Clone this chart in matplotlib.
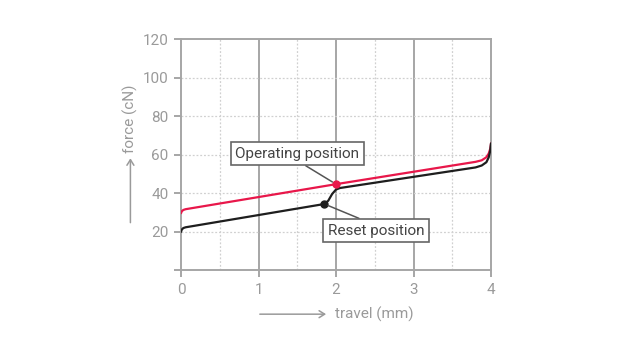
import numpy as np
import matplotlib
matplotlib.use("Agg")
from matplotlib import pyplot as plt

# curves (travel in mm, force in cN)
operating_travel = [0, 0.01, 0.03, 0.06, 2.0, 3.8, 3.88, 3.94, 3.97, 3.99, 4.0]
operating_force = [29.5, 30.5, 31.2, 31.6, 44.6, 56.2, 57.0, 58.6, 60.5, 63.0, 65.8]

reset_travel = [0, 0.01, 0.03, 0.06, 1.85, 1.9, 1.95, 2.0, 2.05, 3.8, 3.88, 3.94, 3.97, 3.99, 4.0]
reset_force = [19.8, 21.0, 21.8, 22.2, 34.3, 36.0, 39.5, 41.8, 42.6, 53.3, 54.3, 56.0, 58.5, 62.0, 65.8]

operating_point = (2.0, 44.6)
reset_point = (1.85, 34.3)

x_ticks = [0, 1, 2, 3, 4]
y_ticks = [0, 20, 40, 60, 80, 100, 120]
y_ticklabels = ["", "20", "40", "60", "80", "100", "120"]

plt.rcParams['font.family'] = ['Roboto', 'DejaVu Sans']
axis_grey = "#a6a6a6"
label_grey = "#9a9a9a"

fig = plt.figure(figsize=(6.3, 3.55), dpi=100)
ax = fig.add_axes([0.2873, 0.2394, 0.4921, 0.6506])

ax.set_xlim(0, 4)
ax.set_ylim(0, 120)

# grid
for x in [1, 2, 3]:
    ax.axvline(x, color=axis_grey, lw=1.4, zorder=1)
for x in [0.5, 1.5, 2.5, 3.5]:
    ax.axvline(x, color="#d0d0d0", lw=0.9, ls=(0, (1.5, 1.5)), zorder=1)
for y in [20, 40, 60, 80, 100]:
    ax.axhline(y, color="#d0d0d0", lw=0.9, ls=(0, (1.5, 1.5)), zorder=1)

ax.plot(operating_travel, operating_force, color="#e8174a", lw=1.6, zorder=3,
        solid_capstyle="round")
ax.plot(reset_travel, reset_force, color="#1e1e1e", lw=1.6, zorder=3,
        solid_capstyle="round")
ax.plot(*operating_point, "o", color="#e8174a", ms=5, zorder=4)
ax.plot(*reset_point, "o", color="#1e1e1e", ms=5, zorder=4)

box = dict(boxstyle="square,pad=0.3", fc="white", ec="#666666", lw=1.2)
ax.annotate("Operating position", xy=operating_point, xytext=(1.5, 60.5),
            ha="center", va="center", fontsize=11, color="#444444", bbox=box,
            arrowprops=dict(arrowstyle="-", color="#555555", lw=1.1,
                            shrinkA=0, shrinkB=3, relpos=(0.5, 0.0)),
            zorder=5)
ax.annotate("Reset position", xy=reset_point, xytext=(2.52, 20.5),
            ha="center", va="center", fontsize=11, color="#444444", bbox=box,
            arrowprops=dict(arrowstyle="-", color="#555555", lw=1.1,
                            shrinkA=0, shrinkB=3, relpos=(0.45, 1.0)),
            zorder=5)

for side in ["left", "right", "top", "bottom"]:
    ax.spines[side].set_color(axis_grey)
    ax.spines[side].set_linewidth(1.4)

ax.set_xticks(x_ticks)
ax.set_yticks(y_ticks)
ax.set_yticklabels(y_ticklabels)
ax.tick_params(colors=axis_grey, labelcolor=label_grey, labelsize=11,
               length=5, width=1.4, direction="out", pad=4)

# axis titles with long arrows
fig.text(0.594, 0.115, "travel (mm)", color=label_grey, fontsize=11,
         ha="center", va="center")
fig.add_artist(matplotlib.patches.FancyArrowPatch(
    (0.408, 0.115), (0.522, 0.115), transform=fig.transFigure,
    arrowstyle="->,head_length=4,head_width=2.5", color=label_grey, lw=1.1))
fig.text(0.207, 0.665, "force (cN)", color=label_grey, fontsize=11,
         ha="center", va="center", rotation=90)
fig.add_artist(matplotlib.patches.FancyArrowPatch(
    (0.207, 0.365), (0.207, 0.562), transform=fig.transFigure,
    arrowstyle="->,head_length=4,head_width=2.5", color=label_grey, lw=1.1))

fig.savefig("out.png", dpi=100)
